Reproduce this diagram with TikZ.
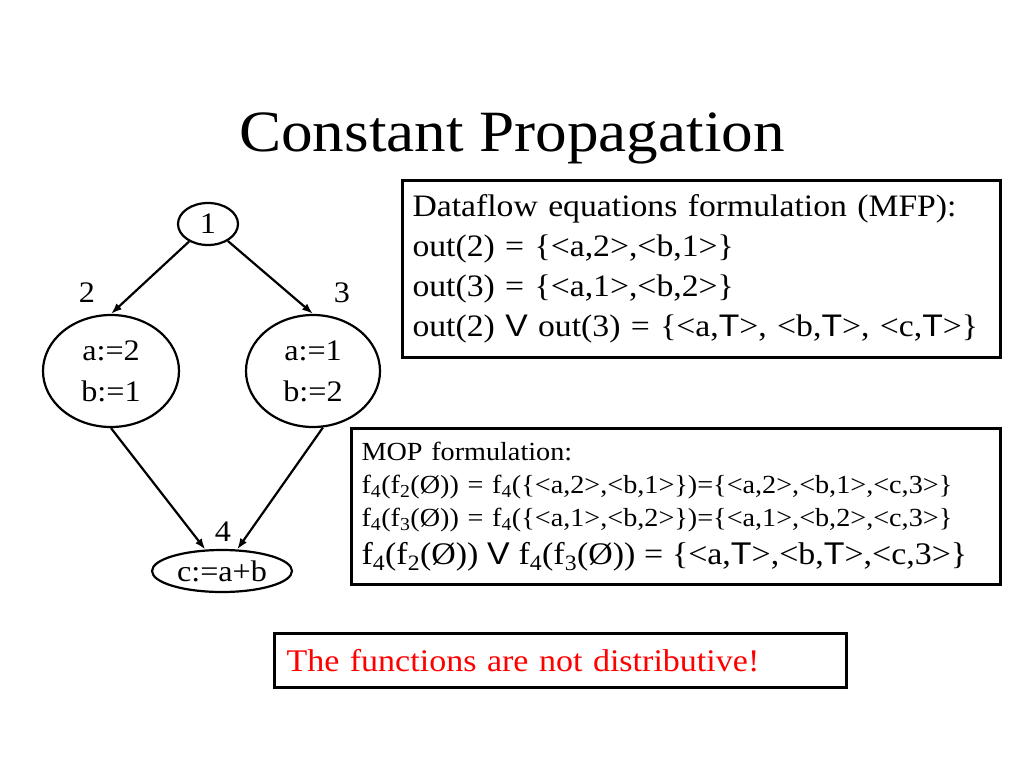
\documentclass[tikz,border=0pt]{standalone}
\usepackage{fontspec}
\setmainfont[FakeStretch=1.08]{Liberation Serif}
\newfontfamily\symsans[FakeStretch=1.08]{Liberation Sans}
\usetikzlibrary{shapes.geometric,arrows.meta}
\newcommand{\fsub}[1]{f\textsubscript{#1}}
\newcommand{\topv}{{\symsans T}}
\newcommand{\joinv}{{\symsans V}}

\begin{document}
\begin{tikzpicture}[x=1pt,y=-1pt,
	block/.style={draw,ellipse,line width=2.2pt,inner sep=0pt,align=center,font=\fontsize{29.8}{41}\selectfont},
	tag/.style={anchor=base,font=\fontsize{29.8}{34}\selectfont},
	panel/.style={draw,line width=3pt,anchor=north west,align=left,inner xsep=10pt,inner ysep=0pt},
	flow/.style={-{Latex[length=11pt,width=8pt]},line width=2.2pt}]
	%\draw[help lines] (0,0) grid[step=50] (1024,768);
	\useasboundingbox (0,0) rectangle (1024,768);
	\node[anchor=base,font=\fontsize{58.5}{64}\selectfont] (title) at (512,151) {Constant Propagation};
	\node[block,minimum width=60pt,minimum height=42pt] (n1) at (208,224) {1};
	\node[block,minimum width=136pt,minimum height=112pt] (n2) at (111,371) {a:=2\\b:=1};
	\node[block,minimum width=134pt,minimum height=112pt] (n3) at (313,371) {a:=1\\b:=2};
	\node[block,minimum width=140pt,minimum height=42pt] (n4) at (222,571) {c:=a+b};
	\node[tag] (l2) at (87,302) {2};
	\node[tag] (l3) at (342,302) {3};
	\node[tag] (l4) at (223,541) {4};
	\draw[flow] (n1) -- (n2.north);
	\draw[flow] (n1) -- (n3.north);
	\draw[flow] (n2.south) -- (n4);
	\draw[flow] (n3.-80) -- (n4);
	\node[panel,minimum width=598pt,minimum height=177pt,text width=578pt,
		font=\fontsize{31.2}{40}\selectfont] (mfp) at (401,179)
		{Dataflow equations formulation (MFP):\\
		out(2) = \{<a,2>,<b,1>\}\\
		out(3) = \{<a,1>,<b,2>\}\\
		out(2) \joinv{} out(3) = \{<a,\topv>, <b,\topv>, <c,\topv>\}};
	\node[panel,minimum width=649pt,minimum height=156pt,text width=629pt,
		font=\fontsize{26.1}{33}\selectfont] (mop) at (350,427)
		{MOP formulation:\\
		\fsub{4}(\fsub{2}(Ø)) = \fsub{4}(\{<a,2>,<b,1>\})=\{<a,2>,<b,1>,<c,3>\}\\
		\fsub{4}(\fsub{3}(Ø)) = \fsub{4}(\{<a,1>,<b,2>\})=\{<a,1>,<b,2>,<c,3>\}\\[5pt]
		{\fontsize{31.4}{36}\selectfont \fsub{4}(\fsub{2}(Ø)) \joinv{} \fsub{4}(\fsub{3}(Ø)) = \{<a,\topv>,<b,\topv>,<c,3>\}}};
	\node[panel,minimum width=572pt,minimum height=54pt,text width=548pt,inner xsep=12pt,
		text=red,font=\fontsize{31.5}{34}\selectfont] (note) at (273,632)
		{The functions are not distributive!};
\end{tikzpicture}
\end{document}
